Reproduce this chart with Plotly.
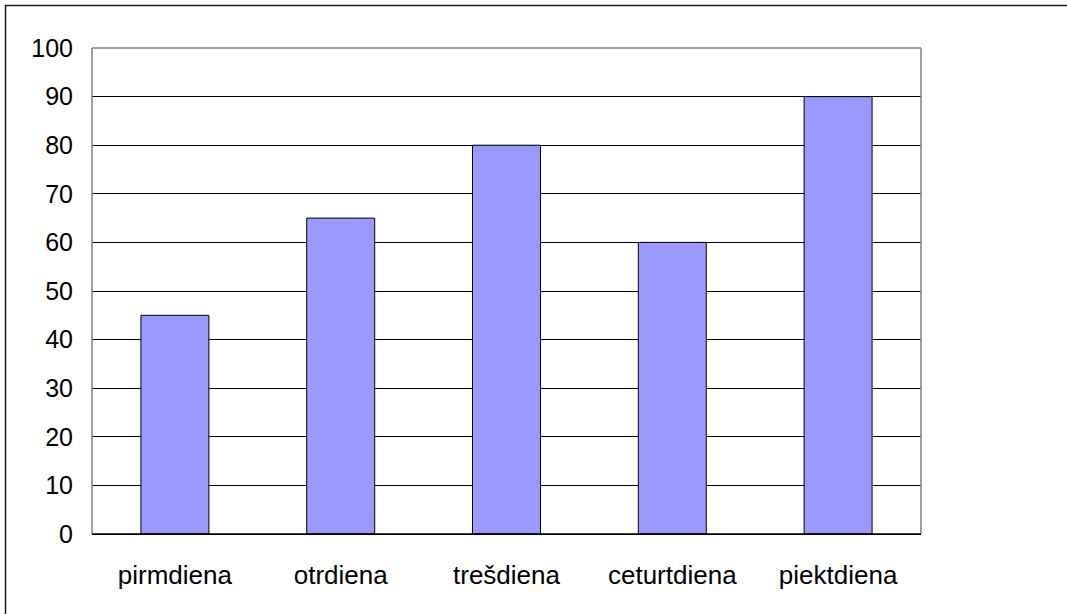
import plotly.graph_objects as go

categories = ["pirmdiena", "otrdiena", "trešdiena", "ceturtdiena", "piektdiena"]
values = [45, 65, 80, 60, 90]
y_ticks = [0, 10, 20, 30, 40, 50, 60, 70, 80, 90, 100]

fig = go.Figure()
fig.add_trace(go.Bar(
    x=categories, y=values,
    marker=dict(color="#9999FF", line=dict(color="#000000", width=1)),
))

yfont = dict(family="Liberation Sans, Arial, sans-serif", size=25, color="#000000")
xfont = dict(family="Liberation Sans, Arial, sans-serif", size=26, color="#000000")

fig.update_layout(
    width=1067, height=614,
    margin=dict(l=92, r=146, t=48, b=80, pad=0),
    paper_bgcolor="white", plot_bgcolor="white",
    bargap=0.59,
    showlegend=False,
    font=yfont,
    xaxis=dict(showgrid=False, showline=True, linecolor="#000000", linewidth=1,
               ticks="", tickfont=xfont, ticklabelstandoff=18, zeroline=False),
    yaxis=dict(range=[0, 100], tickvals=y_ticks, showgrid=True, gridcolor="#000000",
               gridwidth=1, zeroline=False, showline=False, ticks="",
               tickfont=yfont, ticklabelstandoff=18),
    shapes=[
        dict(type="line", xref="paper", yref="paper", x0=0, x1=1, y0=1, y1=1,
             line=dict(color="#808080", width=1.5), layer="above"),
        dict(type="line", xref="paper", yref="paper", x0=0, x1=0, y0=0, y1=1,
             line=dict(color="#808080", width=1.5), layer="above"),
        dict(type="line", xref="paper", yref="paper", x0=1, x1=1, y0=0, y1=1,
             line=dict(color="#808080", width=1.5), layer="above"),
        dict(type="line", xref="paper", yref="paper", x0=0, x1=1, y0=0, y1=0,
             line=dict(color="#000000", width=1.5), layer="above"),
        dict(type="rect", xref="paper", yref="paper",
             x0=(5.5 - 92) / 829, x1=(1075 - 92) / 829,
             y0=(534 - 625) / 486, y1=(534 - 5.5) / 486,
             line=dict(color="#1a1a1a", width=1.5), layer="above"),
    ],
)

fig.write_html("out.html", config={"displayModeBar": False},
               post_script="document.body.style.margin='0';document.body.style.overflow='hidden';")
